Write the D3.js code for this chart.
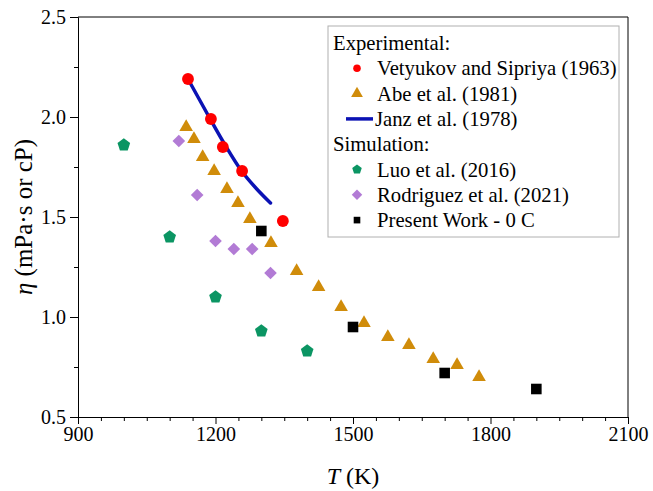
<!DOCTYPE html>
<html>
<head>
<meta charset="utf-8">
<script src="https://cdn.jsdelivr.net/npm/d3@7"></script>
<style>
  body { margin: 0; background: #fff; }
  svg { display: block; font-family: "Liberation Serif", "Times New Roman", serif; }
</style>
</head>
<body>
<div id="chart"></div>
<script>
// Vetyukov and Sipriya (1963)
const vetyukov_T = [1140, 1190, 1216, 1258, 1347];
const vetyukov_eta = [2.19, 1.99, 1.85, 1.73, 1.48];
// Abe et al. (1981)
const abe_T = [1136, 1153, 1172, 1197, 1225, 1249, 1275, 1321, 1377, 1425, 1474, 1524, 1576, 1622, 1675, 1727, 1775];
const abe_eta = [1.95, 1.89, 1.80, 1.73, 1.64, 1.57, 1.49, 1.37, 1.23, 1.15, 1.05, 0.97, 0.90, 0.86, 0.79, 0.76, 0.70];
// Janz et al. (1978)
const janz_T = [1140, 1186, 1221, 1257, 1290, 1320];
const janz_eta = [2.19, 2.00, 1.86, 1.73, 1.64, 1.57];
// Luo et al. (2016)
const luo_T = [1000, 1100, 1200, 1300, 1400];
const luo_eta = [1.86, 1.40, 1.10, 0.93, 0.83];
// Rodriguez et al. (2021)
const rodriguez_T = [1120, 1160, 1200, 1240, 1280, 1320];
const rodriguez_eta = [1.88, 1.61, 1.38, 1.34, 1.34, 1.22];
// Present Work - 0 C
const present_T = [1300, 1500, 1700, 1900];
const present_eta = [1.43, 0.95, 0.72, 0.64];

const x_ticks = [900, 1200, 1500, 1800, 2100];
const y_ticks = [0.5, 1.0, 1.5, 2.0, 2.5];

const zip = (xs, ys) => xs.map((x, i) => ({T: x, eta: ys[i]}));

function draw_chart()
{
    const W = 653, H = 491;
    const margin = {top: 17, right: 25, bottom: 74, left: 78};
    const width = W - margin.left - margin.right,
          height = H - margin.top - margin.bottom;

    const svg = d3.select("#chart").append("svg")
        .attr("width", W)
        .attr("height", H);
    const g = svg.append("g")
        .attr("transform", `translate(${margin.left}, ${margin.top})`);

    const scale_x = d3.scaleLinear().domain([900, 2100]).range([0, width]);
    const scale_y = d3.scaleLinear().domain([0.5, 2.5]).range([height, 0]);

    // pentagon symbol (d3 has none)
    const pentagon = {
        draw(ctx, size) {
            const r = Math.sqrt(size / 2.3776);
            for (let k = 0; k < 5; k++) {
                const a = -Math.PI / 2 + k * 2 * Math.PI / 5;
                if (k === 0) ctx.moveTo(r * Math.cos(a), r * Math.sin(a));
                else ctx.lineTo(r * Math.cos(a), r * Math.sin(a));
            }
            ctx.closePath();
        }
    };
    const diamond = {
        draw(ctx, size) {
            const r = Math.sqrt(size / 2);
            ctx.moveTo(0, -r); ctx.lineTo(r, 0); ctx.lineTo(0, r); ctx.lineTo(-r, 0);
            ctx.closePath();
        }
    };

    const series = [
        {name: "Vetyukov and Sipriya (1963)", data: zip(vetyukov_T, vetyukov_eta), type: d3.symbolCircle, size: 110, lsize: 45, color: "#ff0000"},
        {name: "Abe et al. (1981)", data: zip(abe_T, abe_eta), type: d3.symbolTriangle, size: 80, lsize: 60, color: "#d08c0a"},
        {name: "Luo et al. (2016)", data: zip(luo_T, luo_eta), type: pentagon, size: 105, lsize: 60, color: "#0b9563"},
        {name: "Rodriguez et al. (2021)", data: zip(rodriguez_T, rodriguez_eta), type: diamond, size: 80, lsize: 55, color: "#b27bd5"},
        {name: "Present Work - 0 C", data: zip(present_T, present_eta), type: d3.symbolSquare, size: 112, lsize: 44, color: "#000000"}
    ];

    // axes: major + minor ticks
    const tick_font = "20px";
    const x_axis = g.append("g")
        .attr("transform", `translate(0, ${height})`)
        .call(d3.axisBottom(scale_x).tickValues(x_ticks).tickSize(7).tickPadding(3).tickFormat(d3.format("d")));
    g.append("g")
        .attr("transform", `translate(0, ${height})`)
        .call(d3.axisBottom(scale_x).tickValues(d3.range(950, 2100, 50).filter(v => v % 300 !== 0)).tickSize(4).tickFormat(""))
        .select(".domain").remove();
    const y_axis = g.append("g")
        .call(d3.axisLeft(scale_y).tickValues(y_ticks).tickSize(8).tickPadding(4).tickFormat(d3.format(".1f")));
    g.append("g")
        .call(d3.axisLeft(scale_y).tickValues([0.75, 1.25, 1.75, 2.25]).tickSize(4).tickFormat(""))
        .select(".domain").remove();

    [x_axis, y_axis].forEach(ax => {
        ax.selectAll("text")
            .style("font-size", tick_font)
            .style("font-family", "Liberation Serif, serif")
            .attr("fill", "#000");
    });
    g.selectAll(".domain").attr("stroke", "#000").attr("stroke-width", 1);

    // frame top/right
    g.append("line")
        .attr("x1", 0).attr("x2", width).attr("y1", 0).attr("y2", 0)
        .attr("stroke", "#000");
    g.append("line")
        .attr("x1", width).attr("x2", width).attr("y1", 0).attr("y2", height)
        .attr("stroke", "#000");

    // Janz line
    const line = d3.line().curve(d3.curveMonotoneX).x(d => scale_x(d.T)).y(d => scale_y(d.eta));
    g.append("path")
        .datum(zip(janz_T, janz_eta))
        .attr("d", line)
        .attr("fill", "none")
        .attr("stroke", "#0b12b4")
        .attr("stroke-width", 3.5)
        .attr("stroke-linecap", "round");

    series.forEach(s => {
        g.append("g").selectAll("path")
            .data(s.data)
            .join("path")
            .attr("transform", d => `translate(${scale_x(d.T)}, ${scale_y(d.eta)})`)
            .attr("d", d3.symbol().type(s.type).size(s.size))
            .attr("fill", s.color);
    });

    // axis titles
    svg.append("text")
        .attr("x", margin.left + width / 2)
        .attr("y", 484)
        .attr("text-anchor", "middle")
        .style("font-size", "24px")
        .call(t => {
            t.append("tspan").style("font-style", "italic").text("T");
            t.append("tspan").text(" (K)");
        });

    svg.append("text")
        .attr("transform", `translate(31.5, ${margin.top + height / 2}) rotate(-90)`)
        .attr("text-anchor", "middle")
        .style("font-size", "25px")
        .call(t => {
            t.append("tspan").style("font-style", "italic").text("η");
            t.append("tspan").text(" (mPa·s or cP)");
        });

    // legend
    const legend = svg.append("g").attr("transform", "translate(328, 26)");
    legend.append("rect")
        .attr("width", 291)
        .attr("height", 211)
        .attr("fill", "#fff")
        .attr("stroke", "#b0b0b0")
        .attr("stroke-width", 1);

    const row_h = 25.3;
    const rows = [
        {text: "Experimental:", header: true},
        {s: series[0]},
        {s: series[1]},
        {text: "Janz et al. (1978)", line: true},
        {text: "Simulation:", header: true},
        {s: series[2]},
        {s: series[3]},
        {s: series[4]}
    ];
    const leg_font = "20.7px";
    rows.forEach((r, i) => {
        const cy = 17 + i * row_h;
        const row = legend.append("g").attr("transform", `translate(0, ${cy})`);
        if (r.header) {
            row.append("text").attr("x", 5).attr("y", 7).style("font-size", leg_font).text(r.text);
            return;
        }
        if (r.line) {
            row.append("line")
                .attr("x1", 18).attr("x2", 45).attr("y1", 0).attr("y2", 0)
                .attr("stroke", "#0b12b4").attr("stroke-width", 3.5);
            row.append("text").attr("x", 47).attr("y", 7).style("font-size", leg_font).text(r.text);
            return;
        }
        row.append("path")
            .attr("transform", "translate(29, 0)")
            .attr("d", d3.symbol().type(r.s.type).size(r.s.lsize))
            .attr("fill", r.s.color);
        row.append("text").attr("x", 49).attr("y", 7).style("font-size", leg_font).text(r.s.name);
    });
}
draw_chart();
</script>
</body>
</html>
